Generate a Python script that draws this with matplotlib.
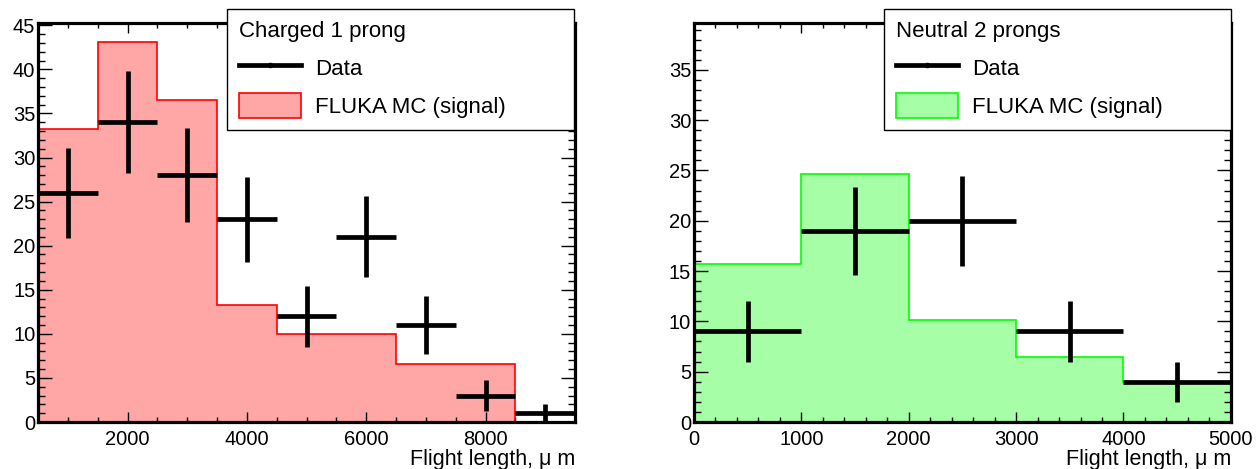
import matplotlib
matplotlib.use("Agg")
import matplotlib.pyplot as plt
from matplotlib.lines import Line2D
from matplotlib.patches import Patch
from matplotlib.ticker import MultipleLocator

plt.rcParams['font.family'] = ['Liberation Sans', 'DejaVu Sans']

# charged 1 prong
ch_edges = [500, 1500, 2500, 3500, 4500, 5500, 6500, 7500, 8500, 9500]
ch_mc = [33.2, 43.1, 36.5, 13.3, 10.0, 10.0, 6.6, 6.6, 0.0]
ch_x = [1000, 2000, 3000, 4000, 5000, 6000, 7000, 8000, 9000]
ch_data = [26, 34, 28, 23, 12, 21, 11, 3, 1]
ch_err = [5.1, 5.8, 5.3, 4.8, 3.46, 4.58, 3.32, 1.73, 1.0]

# neutral 2 prongs
nt_edges = [0, 1000, 2000, 3000, 4000, 5000]
nt_mc = [15.7, 24.6, 10.1, 6.45, 4.0]
nt_x = [500, 1500, 2500, 3500, 4500]
nt_data = [9, 19, 20, 9, 4]
nt_err = [3.0, 4.36, 4.47, 3.0, 2.0]

fig = plt.figure(figsize=(12.56, 4.69), dpi=100)
ax1 = fig.add_axes([0.0303, 0.1002, 0.4275, 0.8497])
ax2 = fig.add_axes([0.5525, 0.1002, 0.4275, 0.8497])


def draw(ax, edges, mc, x, data, err, fc, ec, title, ymax, xmaj, xmin, legx):
    ax.stairs(mc, edges, fill=True, facecolor=fc, edgecolor='none', zorder=1)
    ax.stairs(mc, edges, fill=False, edgecolor=ec, linewidth=1.2, baseline=0, zorder=2)
    half = (edges[1] - edges[0]) / 2
    ax.errorbar(x, data, xerr=half, yerr=err, fmt='none', ecolor='black',
                elinewidth=3.4, capsize=0, zorder=3)
    ax.set_xlim(edges[0], edges[-1])
    ax.set_ylim(0, ymax)
    ax.xaxis.set_major_locator(MultipleLocator(xmaj))
    ax.xaxis.set_minor_locator(MultipleLocator(xmin))
    ax.yaxis.set_major_locator(MultipleLocator(5))
    ax.yaxis.set_minor_locator(MultipleLocator(1))
    ax.tick_params(which='both', direction='in', top=True, right=True, width=1, labelsize=14.5)
    ax.tick_params(axis='y', which='major', length=10, pad=2)
    ax.tick_params(axis='y', which='minor', length=5)
    ax.tick_params(axis='x', which='major', length=7, pad=6)
    ax.tick_params(axis='x', which='minor', length=3.5)
    for s in ax.spines.values():
        s.set_linewidth(2.3)
    ax.set_xlabel('Flight length, μ m', loc='right', fontsize=15.5, labelpad=0)

    handles = [Line2D([], [], color='black', lw=3.4, marker='o', markersize=3),
               Patch(facecolor=fc, edgecolor=ec, linewidth=1.2)]
    leg = ax.legend(handles, ['Data', 'FLUKA MC (signal)'], title=title,
                    loc='upper left', bbox_to_anchor=(legx, 1 - 126 / 469, 347 / 1256, 117 / 469),
                    bbox_transform=fig.transFigure, mode='expand', alignment='left',
                    fontsize=16, title_fontsize=16, frameon=True, fancybox=False,
                    framealpha=1, edgecolor='black', borderpad=0.55, labelspacing=0.6,
                    handlelength=2.8, handleheight=1.3, handletextpad=0.6,
                    borderaxespad=0)
    leg.get_frame().set_linewidth(1)
    leg.set_zorder(10)


draw(ax1, ch_edges, ch_mc, ch_x, ch_data, ch_err, '#ffa6a6', '#ff0000',
     'Charged 1 prong', 45.2, 2000, 500, 227 / 1256)
draw(ax2, nt_edges, nt_mc, nt_x, nt_data, nt_err, '#a6ffa6', '#00ff00',
     'Neutral 2 prongs', 39.6, 1000, 200, 884 / 1256)

fig.savefig('out.png', dpi=100)
